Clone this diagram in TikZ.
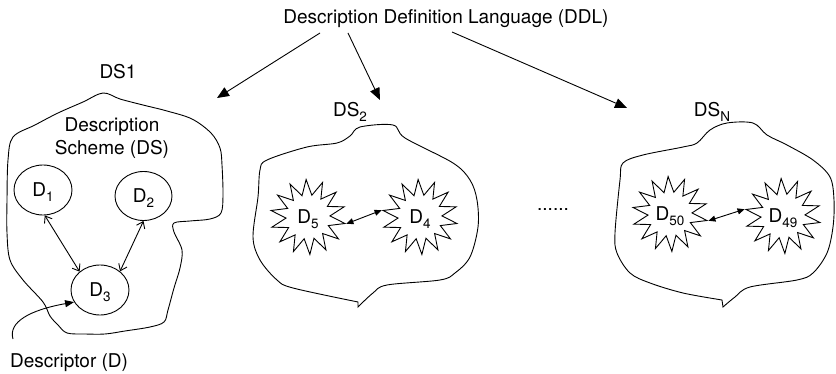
\documentclass[tikz,border=0pt]{standalone}
\usepackage{fontspec}
\setmainfont{TeX Gyre Heros}
\usetikzlibrary{shapes.geometric,arrows.meta,calc}
\newcommand\mysub[1]{\raisebox{-4.5pt}{\fontsize{13.5}{14}\selectfont #1}}
\begin{document}
\begin{tikzpicture}[x=1pt,y=-1pt,
  every node/.style={font=\fontsize{19}{23}\selectfont, inner sep=0pt},
  lbl/.style={anchor=base},
  blob/.style={draw, line width=0.9pt},
  dnode/.style={draw, ellipse, line width=0.9pt, minimum width=58pt, minimum height=50pt, text height=14pt, text depth=0pt},
  burst/.style={draw, star, star points=14, star point ratio=1.7, minimum size=75pt, shape border rotate=2.86, line width=0.9pt, text height=14pt, text depth=0pt},
  bigarrow/.style={-{Triangle[length=12pt,width=10pt]}, line width=0.9pt},
  openarrow/.style={{Straight Barb[length=6pt,width=9pt]}-{Straight Barb[length=6pt,width=9pt]}, line width=0.9pt},
  smallarrow/.style={{Triangle[length=7pt,width=6pt]}-{Triangle[length=7pt,width=6pt]}, line width=0.9pt},
]
\useasboundingbox (0,0) rectangle (836,374);

% top label and arrows
\node[lbl] (DDL) at (446,24) {Description Definition Language (DDL)};
\coordinate (t1) at (217,98);
\coordinate (t2) at (380,100);
\coordinate (t3) at (627,108);
\draw[bigarrow] ($(DDL.base)+(-126,9)$) -- (t1);
\draw[bigarrow] ($(DDL.base)+(-98,9)$) -- (t2);
\draw[bigarrow] ($(DDL.base)+(6,8)$) -- (t3);

% DS1 blob
\draw[blob] plot[smooth cycle, tension=0.55] coordinates {
 (103,93) (120,99) (143,105) (167,111) (192,119) (211,133) (220,148) (222,165)
 (223,195) (221,213) (210,219) (190,221) (174,223) (174,232) (182,250) (180,268)
 (174,288) (168,310) (164,322) (150,327) (125,331) (105,334) (85,334) (67,333)
 (58,325) (50,316) (43,302) (23,280) (10,260) (7,233) (7,200) (8,160) (13,137)
 (35,125) (58,113) (83,102)};
\node[lbl] (ds1) at (118,79) {DS1};
\node[lbl, align=center] (dsdesc) at (112,155) {Description\\Scheme (DS)};

\node[dnode] (D1) at (43,190) {D\mysub{1}};
\node[dnode, minimum width=57pt, minimum height=49pt] (D2) at (143.5,196) {D\mysub{2}};
\node[dnode] (D3) at (100,290) {D\mysub{3}};
\draw[openarrow] (D1.-86) -- (D3.138);
\draw[openarrow] (D2.-90) -- (D3.43);

\node[lbl] (desc) at (69,367) {Descriptor (D)};
\coordinate (dstart) at (13,339);
\draw[-{Triangle[length=9pt,width=7pt]}, line width=0.9pt] (dstart) .. controls (8,322) and (30,310) .. (D3.205);

% DS2 blob
\draw[blob] plot[smooth, tension=0.55] coordinates {
 (358,307) (373,293) (387,285) (440,280) (455,273) (470,257) (478,227) (477,200)
 (470,180) (453,163) (405,138) (393,125) (360,127) (350,136) (337,143) (307,147)
 (267,160) (260,170) (258,197) (253,237) (260,260) (277,280) (293,288) (358,302)} -- cycle;
\node[lbl] (ds2) at (350,117) {DS\mysub{2}};
\node[burst] (D5) at (308,217) {D\mysub{5}};
\node[burst] (D4) at (420,217) {D\mysub{4}};
\draw[smallarrow] (D5.-10) -- (D4.170);

% dots
\node[lbl] (dots) at (553,211) {......};

% DSN blob
\draw[blob] plot[smooth, tension=0.55] coordinates {
 (723,307) (735,297) (750,287) (797,280) (813,273) (827,253) (833,227) (834,200)
 (830,177) (813,160) (787,145) (767,135) (753,123) (727,123) (710,130) (697,143)
 (683,147) (643,155) (623,163) (620,180) (615,233) (617,253) (630,273) (650,283)
 (683,293) (722,300)} -- cycle;
\node[lbl] (dsn) at (712,117) {DS\mysub{N}};
\node[burst] (D50) at (670,214) {D\mysub{50}};
\node[burst] (D49) at (783,216) {D\mysub{49}};
\draw[smallarrow] (D50.-10) -- (D49.170);
\end{tikzpicture}
\end{document}
